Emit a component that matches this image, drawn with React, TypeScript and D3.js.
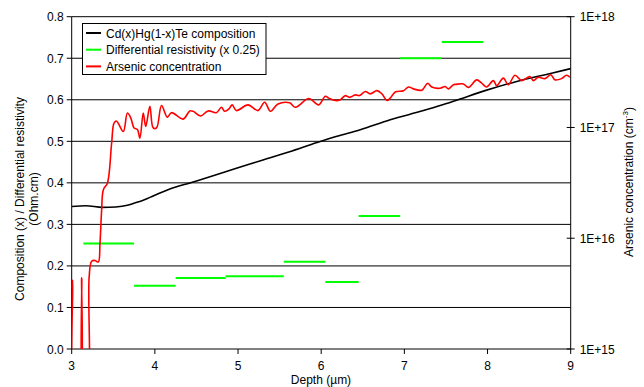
import React, { useRef, useEffect } from "react";
import * as d3 from "d3";

// Cd(x)Hg(1-x)Te composition vs depth
const compDepth = [3.0, 3.17, 3.37, 3.53, 3.67, 3.75, 3.86, 3.94, 4.18, 4.44, 4.7, 4.98, 5.3, 5.62, 5.95, 6.19, 6.47, 6.83, 7.23, 7.43, 7.67, 7.97, 8.33, 8.77, 9.0];
const compValue = [0.343, 0.345, 0.341, 0.342, 0.346, 0.351, 0.358, 0.365, 0.385, 0.401, 0.417, 0.435, 0.455, 0.475, 0.497, 0.512, 0.528, 0.552, 0.574, 0.586, 0.602, 0.622, 0.643, 0.664, 0.675];

// Differential resistivity (x 0.25), stepwise
const resStart = [3.14, 3.75, 4.25, 4.85, 5.55, 6.05, 6.45, 6.95, 7.45];
const resEnd = [3.75, 4.25, 4.85, 5.55, 6.05, 6.45, 6.95, 7.45, 7.95];
const resValue = [0.254, 0.152, 0.171, 0.175, 0.21, 0.161, 0.32, 0.7, 0.739];

// Arsenic concentration (cm^-3), values below 1E15 fall off the axis
const asDepth = [
  3.0, 3.012, 3.035, 3.085, 3.12, 3.15, 3.185, 3.21, 3.24, 3.28, 3.32, 3.34, 3.36, 3.38, 3.43, 3.48,
  3.51, 3.54, 3.62, 3.67, 3.71, 3.75, 3.79, 3.82, 3.86, 3.89, 3.94, 3.98, 4.02, 4.08, 4.15, 4.2,
  4.34, 4.42, 4.46, 4.55, 4.64, 4.74, 4.8, 4.84, 4.89, 4.93, 4.98, 5.12, 5.24, 5.32, 5.39, 5.48,
  5.62, 5.69, 5.83, 5.87, 5.97, 6.05, 6.09, 6.17, 6.23, 6.29, 6.34, 6.41, 6.46, 6.53, 6.59, 6.67,
  6.73, 6.79, 6.83, 6.89, 6.99, 7.05, 7.11, 7.21, 7.28, 7.33, 7.43, 7.49, 7.53, 7.59, 7.62, 7.71,
  7.77, 7.87, 7.93, 7.99, 8.07, 8.11, 8.19, 8.25, 8.33, 8.41, 8.51, 8.55, 8.61, 8.69, 8.76, 8.81,
  8.89, 8.95, 8.99,
];
const asConc = [
  3.5e15, 4.2e15, 3e14, 3e14, 4.4e15, 3e14, 3e14, 4.5e15, 6.2e15, 6.3e15, 6.1e15, 9e15, 1.8e16, 2.73e16, 3.16e16, 7.2e16,
  1.1e17, 1.14e17, 9.2e16, 1.35e17, 1.22e17, 9.9e16, 9.6e16, 8.0e16, 1.35e17, 1.02e17, 1.55e17, 9.9e16, 9.9e16, 1.58e17, 1.24e17, 1.36e17,
  1.19e17, 1.41e17, 1.4e17, 1.27e17, 1.41e17, 1.36e17, 1.52e17, 1.4e17, 1.47e17, 1.6e17, 1.42e17, 1.6e17, 1.42e17, 1.69e17, 1.4e17, 1.63e17,
  1.67e17, 1.52e17, 1.81e17, 1.81e17, 1.6e17, 1.91e17, 1.84e17, 1.75e17, 1.78e17, 1.94e17, 1.87e17, 1.97e17, 1.94e17, 2.11e17, 2.01e17, 2.15e17,
  2.01e17, 1.75e17, 1.84e17, 2.09e17, 2.15e17, 2.32e17, 2.23e17, 2.17e17, 2.51e17, 2.32e17, 2.26e17, 2.34e17, 2.23e17, 2.43e17, 2.45e17, 2.47e17,
  2.3e17, 2.69e17, 2.51e17, 2.32e17, 2.65e17, 2.39e17, 2.79e17, 2.43e17, 2.96e17, 2.65e17, 2.88e17, 2.65e17, 2.84e17, 2.76e17, 2.99e17, 2.69e17,
  2.76e17, 2.96e17, 2.84e17,
];

const leftTicks = [0, 0.1, 0.2, 0.3, 0.4, 0.5, 0.6, 0.7, 0.8];
const rightTicks = [1e15, 1e16, 1e17, 1e18];
const rightTickLabels = ["1E+15", "1E+16", "1E+17", "1E+18"];
const depthTicks = [3, 4, 5, 6, 7, 8, 9];

const legendItems = [
  { label: "Cd(x)Hg(1-x)Te composition", color: "#000000" },
  { label: "Differential resistivity (x 0.25)", color: "#00ff00" },
  { label: "Arsenic concentration", color: "#ff0000" },
];

const W = 644;
const H = 387;
const FONT = "'Liberation Sans', Arial, sans-serif";

export default function App() {
  const svgRef = useRef<SVGSVGElement>(null);

  useEffect(() => {
    if (!svgRef.current) return;
    const svg = d3.select(svgRef.current);
    svg.selectAll("*").remove();

    const left = 71.7, right = 570.7, top = 16.7, bottom = 349;

    const x = d3.scaleLinear().domain([3, 9]).range([left, right]);
    const y = d3.scaleLinear().domain([0, 0.8]).range([bottom, top]);
    const yLog = d3.scaleLog().domain([1e15, 1e18]).range([bottom, top]);

    svg.append("rect").attr("width", W).attr("height", H).attr("fill", "#fff");

    svg.append("clipPath").attr("id", "plot-clip")
      .append("rect")
      .attr("x", left).attr("y", top)
      .attr("width", right - left).attr("height", bottom - top);

    // gridlines
    svg.append("g").selectAll("line")
      .data(leftTicks.slice(1))
      .join("line")
      .attr("x1", left).attr("x2", right)
      .attr("y1", d => y(d)).attr("y2", d => y(d))
      .attr("stroke", "#000").attr("stroke-width", 1);

    // left axis
    const ga = svg.append("g").style("font-family", FONT).style("font-size", "12px");
    ga.append("line").attr("x1", left).attr("x2", left).attr("y1", top).attr("y2", bottom).attr("stroke", "#000");
    leftTicks.forEach(t => {
      ga.append("line").attr("x1", left - 5).attr("x2", left).attr("y1", y(t)).attr("y2", y(t)).attr("stroke", "#000");
      ga.append("text").attr("x", left - 8).attr("y", y(t) + 4.5)
        .attr("text-anchor", "end").attr("fill", "#000").text(t.toFixed(1));
    });

    // right axis (log)
    ga.append("line").attr("x1", right).attr("x2", right).attr("y1", top).attr("y2", bottom).attr("stroke", "#000");
    rightTicks.forEach((t, i) => {
      ga.append("line").attr("x1", right - 4).attr("x2", right + 4).attr("y1", yLog(t)).attr("y2", yLog(t)).attr("stroke", "#000");
      ga.append("text").attr("x", right + 9).attr("y", yLog(t) + 4.5)
        .attr("fill", "#000").text(rightTickLabels[i]);
    });

    // bottom axis
    ga.append("line").attr("x1", left).attr("x2", right).attr("y1", bottom).attr("y2", bottom).attr("stroke", "#000");
    depthTicks.forEach(t => {
      ga.append("line").attr("x1", x(t)).attr("x2", x(t)).attr("y1", bottom).attr("y2", bottom + 5).attr("stroke", "#000");
      ga.append("text").attr("x", x(t)).attr("y", bottom + 21)
        .attr("text-anchor", "middle").attr("fill", "#000").text(t);
    });

    // axis titles
    ga.append("text").attr("x", 321).attr("y", 384).attr("text-anchor", "middle").text("Depth (\u00b5m)");
    const lt = ga.append("text").attr("transform", "translate(24,199) rotate(-90)").attr("text-anchor", "middle");
    lt.append("tspan").attr("x", 0).attr("y", 0).text("Composition (x) / Differential resistivity");
    lt.append("tspan").attr("x", 0).attr("y", 14).text("(Ohm.cm)");
    const rt = ga.append("text").attr("transform", "translate(633,182) rotate(-90)").attr("text-anchor", "middle");
    rt.append("tspan").text("Arsenic concentration (cm");
    rt.append("tspan").attr("dy", -5).style("font-size", "8px").text("-3");
    rt.append("tspan").attr("dy", 5).text(")");

    const plot = svg.append("g").attr("clip-path", "url(#plot-clip)");

    // composition
    const compLine = d3.line<number>()
      .x((_, i) => x(compDepth[i]))
      .y(d => y(d))
      .curve(d3.curveMonotoneX);
    plot.append("path").datum(compValue)
      .attr("fill", "none").attr("stroke", "#000").attr("stroke-width", 1.6)
      .attr("d", compLine);

    // differential resistivity steps
    plot.append("g").selectAll("line")
      .data(resValue)
      .join("line")
      .attr("x1", (_, i) => x(resStart[i])).attr("x2", (_, i) => x(resEnd[i]))
      .attr("y1", d => y(d)).attr("y2", d => y(d))
      .attr("stroke", "#00ff00").attr("stroke-width", 2);

    // arsenic
    const asLine = d3.line<number>()
      .x((_, i) => x(asDepth[i]))
      .y(d => yLog(d))
      .curve(d3.curveCatmullRom.alpha(0.5));
    plot.append("path").datum(asConc)
      .attr("fill", "none").attr("stroke", "#ff0000").attr("stroke-width", 1.6)
      .attr("d", asLine);

    // legend
    const lg = svg.append("g").style("font-family", FONT).style("font-size", "12px");
    lg.append("rect").attr("x", 82.5).attr("y", 23.5).attr("width", 183.5).attr("height", 51)
      .attr("fill", "#fff").attr("stroke", "#000");
    legendItems.forEach((item, i) => {
      const ly = 33 + i * 16.7;
      lg.append("line").attr("x1", 86).attr("x2", 101).attr("y1", ly).attr("y2", ly)
        .attr("stroke", item.color).attr("stroke-width", 2);
      lg.append("text").attr("x", 106).attr("y", ly + 4.5).attr("fill", "#000").text(item.label);
    });
  }, []);

  return (
    <svg
      ref={svgRef}
      width={W}
      height={H}
      style={{ position: "absolute", left: 0, top: 0, display: "block" }}
    />
  );
}
